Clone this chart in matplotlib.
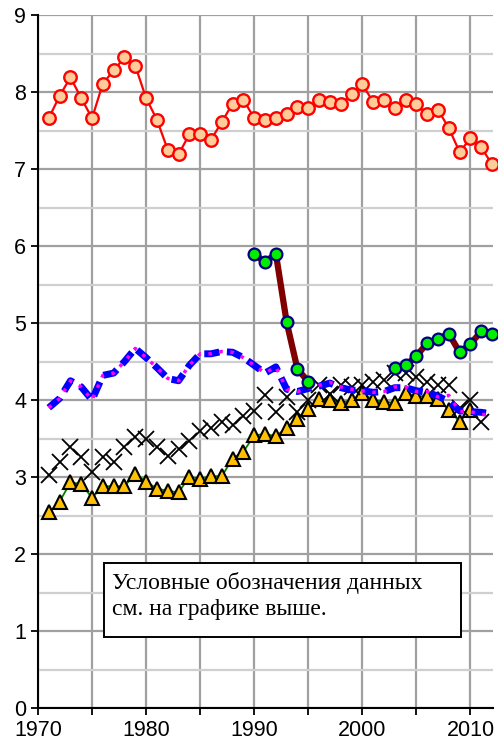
import matplotlib
matplotlib.use('Agg')
import matplotlib.pyplot as plt
from matplotlib.patches import Rectangle
import numpy as np

# years
years = list(range(1971, 2013))

# red circles, 1971-2012
red_vals = [7.66, 7.95, 8.19, 7.92, 7.66, 8.11, 8.28, 8.45, 8.34, 7.92,
            7.64, 7.25, 7.19, 7.45, 7.45, 7.38, 7.61, 7.85, 7.90, 7.66,
            7.64, 7.66, 7.72, 7.80, 7.79, 7.90, 7.87, 7.84, 7.97, 8.10,
            7.87, 7.90, 7.79, 7.90, 7.84, 7.71, 7.77, 7.53, 7.22, 7.40,
            7.28, 7.06]

# green circles on dark red line (gap 1996-2002)
green_years = [1990, 1991, 1992, 1993, 1994, 1995, 1996, 2003, 2004, 2005,
               2006, 2007, 2008, 2009, 2010, 2011, 2012]
green_vals = [5.90, 5.79, 5.90, 5.01, 4.40, 4.24, np.nan, 4.42, 4.45, 4.57,
              4.74, 4.79, 4.86, 4.62, 4.73, 4.89, 4.86]

# blue dashed and magenta dotted series, 1971-2012
blue_vals = [3.90, 4.02, 4.25, 4.17, 4.00, 4.32, 4.35, 4.50, 4.67, 4.55,
             4.42, 4.28, 4.25, 4.45, 4.60, 4.60, 4.63, 4.62, 4.55, 4.45,
             4.35, 4.43, 4.14, 4.11, 4.15, 4.18, 4.22, 4.16, 4.13, 4.12,
             4.10, 4.11, 4.16, 4.16, 4.12, 4.10, 4.05, 3.98, 3.86, 3.85,
             3.84, 3.82]
magenta_vals = [3.90, 4.02, 4.25, 4.17, 4.00, 4.32, 4.35, 4.50, 4.67, 4.55,
                4.42, 4.28, 4.25, 4.45, 4.60, 4.60, 4.63, 4.62, 4.55, 4.45,
                4.35, 4.43, 4.14, 4.11, 4.15, 4.19, 4.23, 4.17, 4.14, 4.12,
                4.10, 4.11, 4.17, 4.17, 4.11, 4.11, 4.04, 4.06, 3.85, 3.85,
                3.81, 3.82]

# black crosses, 1971-2011
cross_years = list(range(1971, 2012))
cross_vals = [3.02, 3.19, 3.39, 3.26, 3.07, 3.26, 3.19, 3.39, 3.52, 3.49,
              3.39, 3.27, 3.37, 3.47, 3.60, 3.64, 3.72, 3.68, 3.79, 3.86,
              4.06, 3.85, 4.04, 3.85, 4.00, 4.19, 4.08, 4.19, 4.17, 4.19,
              4.24, 4.26, 4.35, 4.35, 4.30, 4.24, 4.19, 4.19, 3.90, 4.00,
              3.72]

# yellow triangles, 1971-2010
tri_years = list(range(1971, 2011))
tri_vals = [2.54, 2.68, 2.93, 2.91, 2.73, 2.88, 2.88, 2.88, 3.04, 2.94,
            2.85, 2.82, 2.80, 3.00, 2.98, 3.01, 3.01, 3.24, 3.33, 3.54,
            3.56, 3.53, 3.64, 3.75, 3.88, 4.01, 4.00, 3.96, 4.00, 4.09,
            4.00, 3.98, 3.96, 4.09, 4.05, 4.05, 4.01, 3.87, 3.72, 3.87]

note = 'Условные обозначения данных\nсм. на графике выше.'

fig = plt.figure(figsize=(4.98, 7.43), dpi=100)
ax = fig.add_axes([0.0763, 0.0471, 0.914, 0.9327])

ax.set_xlim(1970, 2012.1)
ax.set_ylim(0, 9)

ax.set_xticks(range(1970, 2011, 10))
ax.set_xticks(range(1975, 2012, 10), minor=True)
ax.set_yticks(range(0, 10))
ax.set_yticks(np.arange(0.5, 9, 1.0), minor=True)

ax.grid(which='major', color='#a0a0a0', lw=1.6)
ax.grid(which='minor', axis='y', color='#cfcfcf', lw=1.6)
ax.grid(which='minor', axis='x', color='#a0a0a0', lw=1.6)
ax.set_axisbelow(True)

for s in ['top', 'right']:
    ax.spines[s].set_visible(False)
for s in ['left', 'bottom']:
    ax.spines[s].set_linewidth(1.5)
ax.tick_params(which='both', length=5, width=1.3, direction='out')
ax.tick_params(axis='y', which='minor', length=0)
ax.tick_params(which='minor', labelbottom=False)
for lbl in ax.get_xticklabels() + ax.get_yticklabels():
    lbl.set_fontfamily('Liberation Sans')
    lbl.set_fontsize(15.5)

ax.plot(tri_years, tri_vals, color='#008000', lw=1.3, marker='^', ms=10.5,
        mfc='#FFC000', mec='black', mew=1.5, zorder=3, clip_on=False)
ax.plot(cross_years, cross_vals, ls='none', marker='x', ms=11,
        mec='black', mew=1.3, zorder=4, clip_on=False)
ax.plot(years, blue_vals, color='#0000FF', lw=5, ls=(0, (2.2, 1.1)),
        zorder=5, clip_on=False)
ax.plot(years, magenta_vals, color='#FF00FF', lw=2.5, ls=(0, (1, 2.2)),
        zorder=6, clip_on=False)
ax.plot(green_years, green_vals, color='#800000', lw=4.5, marker='o', ms=8.5,
        mfc='#00EE00', mec='#000080', mew=1.6, zorder=7, clip_on=False)
ax.plot(years, red_vals, color='#FF0000', lw=1.6, marker='o', ms=9,
        mfc='#FFCC99', mec='#FF0000', mew=1.7, zorder=8, clip_on=False)

# note box
ax.add_patch(Rectangle((1976.1, 0.92), 33.0, 0.96, fc='white', ec='black',
                       lw=1.4, zorder=9))
ax.text(1976.85, 1.45, note, fontfamily='Liberation Serif', fontsize=17,
        va='center', ha='left', linespacing=1.3, zorder=10)

fig.savefig('out.png', dpi=100)
